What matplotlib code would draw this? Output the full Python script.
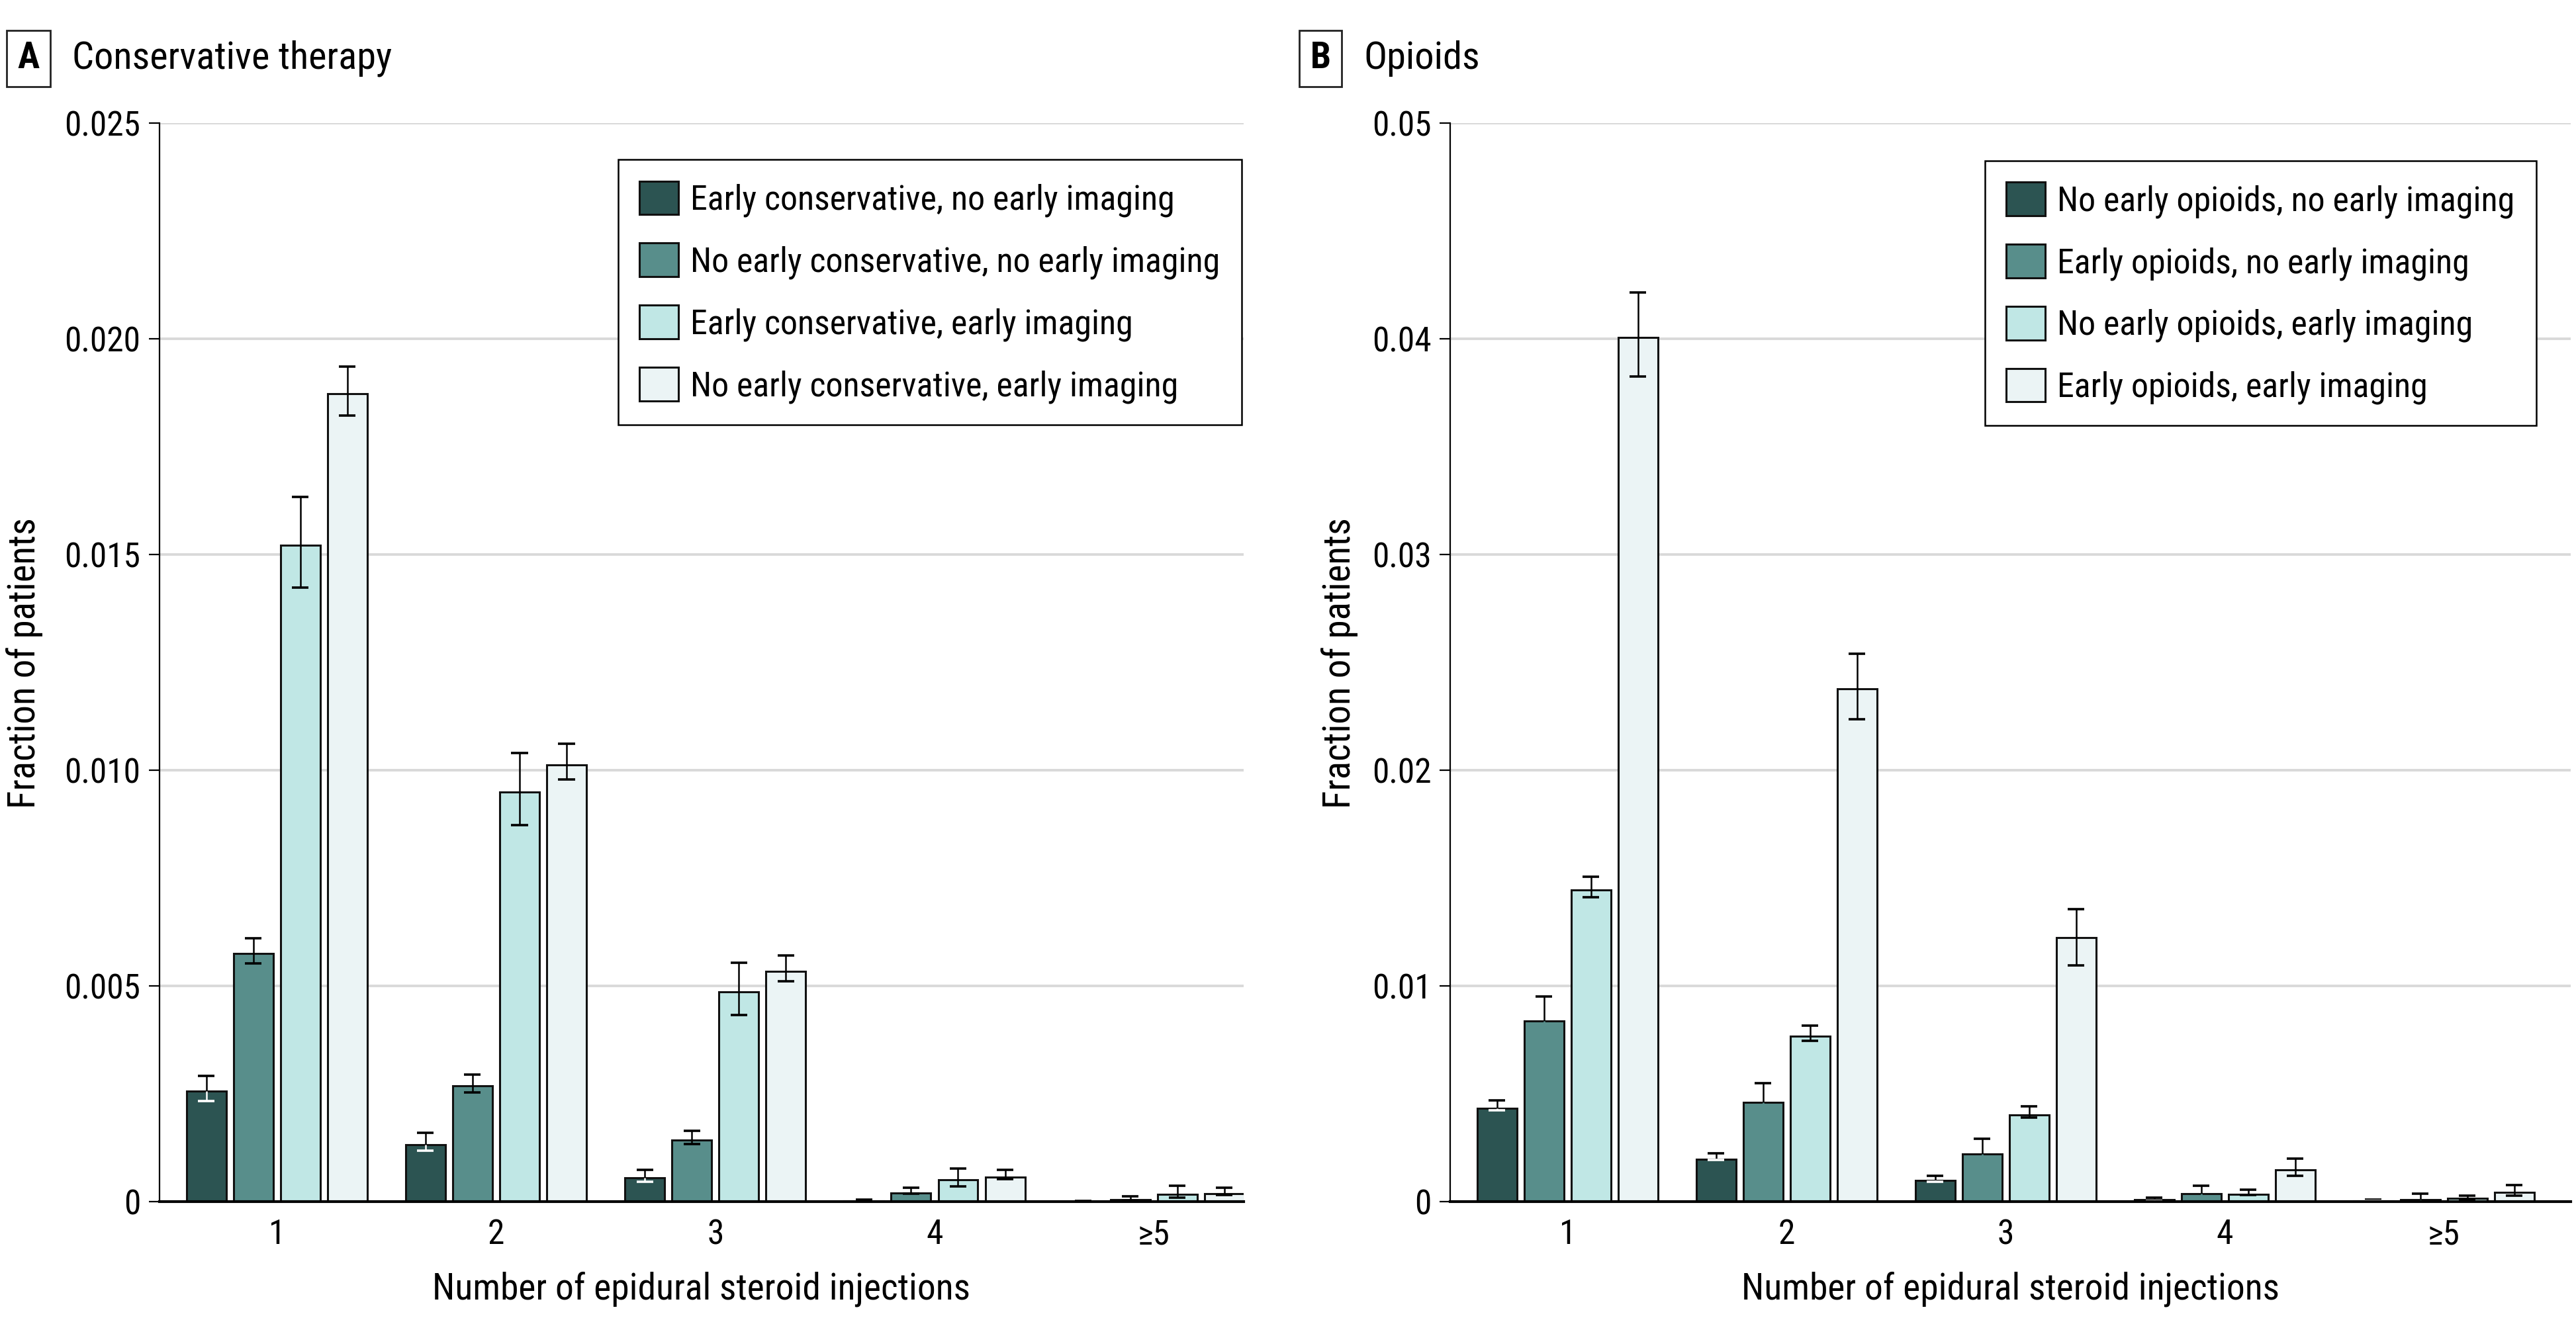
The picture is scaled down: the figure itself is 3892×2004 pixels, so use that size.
import matplotlib
matplotlib.use('Agg')
import matplotlib.pyplot as plt
import numpy as np
from matplotlib.patches import Patch
from matplotlib import font_manager

# look for a narrow sans face, the reference uses a condensed font
narrow = None
for want in ['Noto Sans', 'Roboto', 'Liberation Sans', 'DejaVu Sans', 'Open Sans']:
    for f in font_manager.fontManager.ttflist:
        cond = ('Condensed' in f.name or 'Narrow' in f.name
                or str(f.stretch) in ('condensed', 'semi-condensed', '500', '600')
                or 'Condensed' in f.fname or 'Narrow' in f.fname)
        if cond and f.name.startswith(want) and f.weight in (400, 'normal', 'regular') \
                and f.style == 'normal' and 'Extra' not in f.fname and 'Semi' not in f.fname:
            narrow = f
            break
    if narrow:
        break

if narrow is not None:
    plt.rcParams['font.family'] = [narrow.name, 'DejaVu Sans']
    plt.rcParams['font.stretch'] = narrow.stretch
else:
    plt.rcParams['font.family'] = ['DejaVu Sans']

groups = ['1', '2', '3', '4', '≥5']
colors = ['#2c5452', '#588e8b', '#c0e7e5', '#ebf4f5']

# Panel A - conservative therapy
labels_a = ['Early conservative, no early imaging',
            'No early conservative, no early imaging',
            'Early conservative, early imaging',
            'No early conservative, early imaging']
vals_a = [
    [0.00256, 0.00132, 0.00055, 0.00001, 0.000005],
    [0.00575, 0.00268, 0.00143, 0.00020, 0.00004],
    [0.01522, 0.00949, 0.00486, 0.00050, 0.00017],
    [0.01873, 0.01012, 0.00534, 0.00057, 0.00019],
]
hi_a = [
    [0.00291, 0.00159, 0.00074, 0.00004, 0.00002],
    [0.00611, 0.00294, 0.00164, 0.00033, 0.00013],
    [0.01634, 0.01040, 0.00553, 0.00077, 0.00037],
    [0.01935, 0.01061, 0.00570, 0.00073, 0.00032],
]
lo_a = [
    [0.00233, 0.00118, 0.00046, 0.0, 0.0],
    [0.00552, 0.00253, 0.00133, 0.00018, 0.00001],
    [0.01423, 0.00873, 0.00432, 0.00035, 0.00010],
    [0.01822, 0.00978, 0.00510, 0.00052, 0.00016],
]
yticks_a = [0, 0.005, 0.010, 0.015, 0.020, 0.025]
yticklabels_a = ['0', '0.005', '0.010', '0.015', '0.020', '0.025']

# Panel B - opioids
labels_b = ['No early opioids, no early imaging',
            'Early opioids, no early imaging',
            'No early opioids, early imaging',
            'Early opioids, early imaging']
vals_b = [
    [0.00434, 0.00196, 0.00098, 0.00008, 0.00004],
    [0.00838, 0.00461, 0.00222, 0.00038, 0.00010],
    [0.01445, 0.00768, 0.00403, 0.00035, 0.00014],
    [0.04007, 0.02378, 0.01225, 0.00148, 0.00043],
]
hi_b = [
    [0.00469, 0.00224, 0.00120, 0.00019, 0.00009],
    [0.00952, 0.00548, 0.00290, 0.00074, 0.00036],
    [0.01505, 0.00816, 0.00441, 0.00054, 0.00028],
    [0.04215, 0.02540, 0.01355, 0.00199, 0.00077],
]
lo_b = [
    [0.00422, 0.00192, 0.00093, 0.00004, 0.00002],
    [0.00730, 0.00380, 0.00160, 0.00010, 0.0],
    [0.01410, 0.00746, 0.00389, 0.00030, 0.00010],
    [0.03824, 0.02237, 0.01096, 0.00120, 0.00029],
]
yticks_b = [0, 0.01, 0.02, 0.03, 0.04, 0.05]
yticklabels_b = ['0', '0.01', '0.02', '0.03', '0.04', '0.05']

fig = plt.figure(figsize=(19.46, 10.02), dpi=200)
ax_a = fig.add_axes([0.0619, 0.0938, 0.4209, 0.8134])
ax_b = fig.add_axes([0.5630, 0.0938, 0.4350, 0.8134])

pitch = 0.2145
width = 0.181
cap = 0.038
x = np.arange(len(groups))


def draw_panel(ax, vals, hi, lo, labels, yticks, yticklabels, low_colors, xmax):
    for i in range(4):
        xs = x + (i - 1.5) * pitch
        ax.bar(xs, vals[i], width, color=colors[i], edgecolor='#111111',
               linewidth=1.1, zorder=2, label=labels[i])
        v = np.array(vals[i])
        h = np.array(hi[i])
        l = np.array(lo[i])
        ax.vlines(xs, v, h, color='black', linewidth=0.9, zorder=3)
        ax.hlines(h, xs - cap, xs + cap, color='black', linewidth=1.3, zorder=3)
        ax.vlines(xs, l, v, color=low_colors[i], linewidth=0.9, zorder=3)
        ax.hlines(l, xs - cap, xs + cap, color=low_colors[i], linewidth=1.3, zorder=3)

    ax.set_xlim(-0.535, xmax)
    ax.set_ylim(0, yticks[-1])
    ax.set_yticks(yticks)
    ax.set_yticklabels(yticklabels)
    ax.set_xticks(x)
    ax.set_xticklabels(groups)
    ax.tick_params(axis='x', length=0, pad=9, labelsize=18.5)
    ax.tick_params(axis='y', length=5.8, width=0.8, pad=4.5, labelsize=18.5)
    ax.yaxis.grid(True, color='#d9d9d9', linewidth=1.4)
    ax.set_axisbelow(True)
    for s in ['top', 'right']:
        ax.spines[s].set_visible(False)
    ax.spines['left'].set_linewidth(0.8)
    ax.spines['bottom'].set_linewidth(1.5)
    ax.spines['bottom'].set_zorder(4)
    ax.set_xlabel('Number of epidural steroid injections', fontsize=20, labelpad=11)

    handles = [Patch(facecolor=colors[i], edgecolor='#111111', linewidth=1.1)
               for i in range(4)]
    leg = ax.legend(handles, labels, loc='upper right', fontsize=18.7,
                    frameon=True, fancybox=False, framealpha=1,
                    edgecolor='black', handlelength=1.13, handleheight=1.12,
                    labelspacing=0.76, handletextpad=0.35, borderpad=0.62,
                    borderaxespad=0)
    leg.get_frame().set_linewidth(0.9)
    return leg


leg_a = draw_panel(ax_a, vals_a, hi_a, lo_a, labels_a, yticks_a, yticklabels_a,
                   ['white', 'black', 'black', 'black'], 4.41)
leg_a.set_bbox_to_anchor((0.998, 0.966), transform=ax_a.transAxes)
leg_b = draw_panel(ax_b, vals_b, hi_b, lo_b, labels_b, yticks_b, yticklabels_b,
                   ['white', colors[1], 'black', 'black'], 4.58)
leg_b.set_bbox_to_anchor((0.969, 0.965), transform=ax_b.transAxes)

fig.text(0.0095, 0.5, 'Fraction of patients', rotation=90, fontsize=20.5,
         ha='center', va='center')
fig.text(0.520, 0.5, 'Fraction of patients', rotation=90, fontsize=20.5,
         ha='center', va='center')

box = dict(boxstyle='square,pad=0.3', facecolor='white', edgecolor='#222222', linewidth=1.0)
fig.text(0.011, 0.956, 'A', fontsize=20, fontweight='bold', ha='center', va='center', bbox=box)
fig.text(0.028, 0.956, 'Conservative therapy', fontsize=21, ha='left', va='center')
fig.text(0.5126, 0.956, 'B', fontsize=20, fontweight='bold', ha='center', va='center', bbox=box)
fig.text(0.5293, 0.956, 'Opioids', fontsize=21, ha='left', va='center')

fig.savefig('out.png', dpi=200)
